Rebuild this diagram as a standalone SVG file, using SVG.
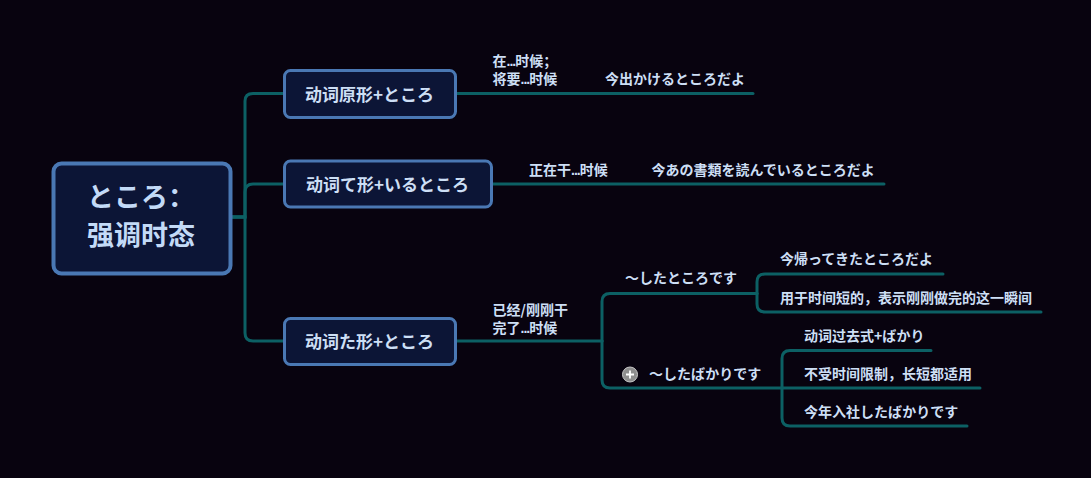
<svg xmlns="http://www.w3.org/2000/svg" width="1091" height="478" viewBox="0 0 1091 478">
<style>
.bg{fill:#08030f}
.box{fill:#0c1536;stroke:#4a78b4;stroke-width:3}
.root{stroke-width:4}
.c{fill:none;stroke:#0c6064;stroke-width:3;stroke-linecap:round}
.t{font-family:"Noto Sans CJK SC","Noto Sans CJK JP",sans-serif;fill:#cddff5}
.rt{font-size:27px;font-weight:bold;fill:#c3daf7}
.nt{font-size:17px;font-weight:bold;text-anchor:middle}
.st{font-size:14px;font-weight:bold}
.d{font-family:"Liberation Sans",sans-serif;letter-spacing:-1px}
</style>
<rect class="bg" x="0" y="0" width="1091" height="478"/>
<g id="connectors">
<path class="c" d="M232,217 H245 V101 Q245,93.5 253,93.5 H283"/>
<path class="c" d="M232,217 H245 V192 Q245,184 253,184 H283"/>
<path class="c" d="M232,217 H245 V333 Q245,341 253,341 H283"/>
<path class="c" d="M457,93.5 H753"/>
<path class="c" d="M493,184 H884"/>
<path class="c" d="M457,341 H602"/>
<path class="c" d="M602,341 V301.5 Q602,293.5 610,293.5 H757"/>
<path class="c" d="M602,341 V380 Q602,388 610,388 H980"/>
<path class="c" d="M757,293.5 V282 Q757,274 765,274 H943"/>
<path class="c" d="M757,293.5 V304 Q757,312 765,312 H1041"/>
<path class="c" d="M782,388 V358.5 Q782,350.5 790,350.5 H931"/>
<path class="c" d="M782,388 V418 Q782,426 790,426 H967"/>
</g>
<g id="root">
<rect class="box root" x="53.5" y="163.5" width="177" height="110" rx="8"/>
<text class="t rt" x="87" y="207">ところ：</text>
<text class="t rt" x="87" y="245">强调时态</text>
</g>
<g id="node1">
<rect class="box" x="284.5" y="70.5" width="171" height="47" rx="6"/>
<text class="t nt" x="369.5" y="100.5">动词原形+ところ</text>
</g>
<g id="node2">
<rect class="box" x="284.5" y="161" width="207" height="46" rx="6"/>
<text class="t nt" x="387.5" y="190.5">动词て形+いるところ</text>
</g>
<g id="node3">
<rect class="box" x="284.5" y="318.5" width="171" height="46" rx="6"/>
<text class="t nt" x="369.5" y="348">动词た形+ところ</text>
</g>
<g id="labels1">
<text class="t st" x="492.5" y="66">在<tspan class="d">...</tspan>时候；</text>
<text class="t st" x="492.5" y="84">将要<tspan class="d">...</tspan>时候</text>
<text class="t st" x="605" y="84">今出かけるところだよ</text>
</g>
<g id="labels2">
<text class="t st" x="529" y="175">正在干<tspan class="d">...</tspan>时候</text>
<text class="t st" x="651.5" y="175">今あの書類を読んでいるところだよ</text>
</g>
<g id="labels3">
<text class="t st" x="492.5" y="314.5">已经/刚刚干</text>
<text class="t st" x="492.5" y="333">完了<tspan class="d">...</tspan>时候</text>
</g>
<g id="sub1">
<text class="t st" x="625" y="283">～したところです</text>
<text class="t st" x="780" y="264">今帰ってきたところだよ</text>
<text class="t st" x="780" y="303">用于时间短的，表示刚刚做完的这一瞬间</text>
</g>
<g id="sub2">
<circle cx="630" cy="374.5" r="7.5" fill="#8e8e8e" stroke="#c8c8c8" stroke-width="1"/>
<path d="M626,374.5 H634 M630,370.5 V378.5" stroke="#ffffff" stroke-width="1.8"/>
<text class="t st" x="649" y="379">～したばかりです</text>
<text class="t st" x="804" y="341">动词过去式+ばかり</text>
<text class="t st" x="804" y="379">不受时间限制，长短都适用</text>
<text class="t st" x="804" y="417">今年入社したばかりです</text>
</g>
</svg>
